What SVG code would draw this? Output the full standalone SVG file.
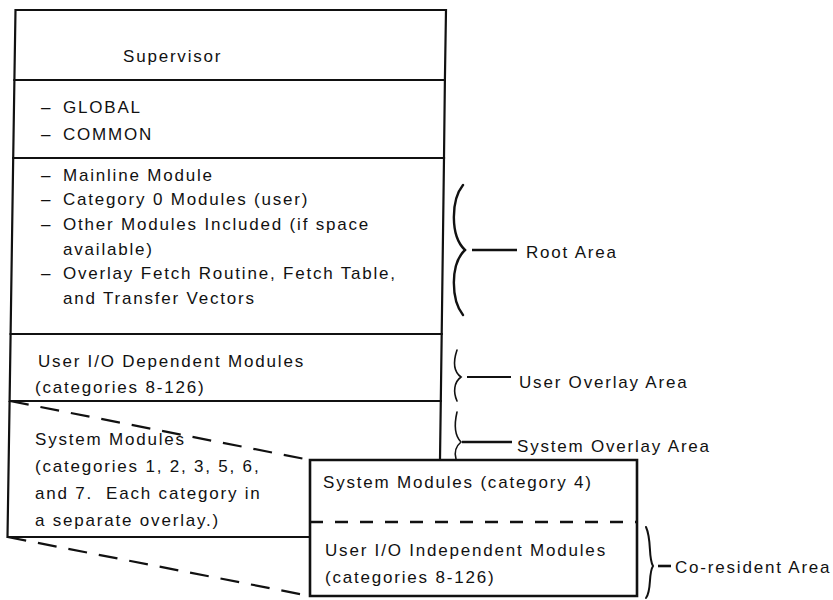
<svg xmlns="http://www.w3.org/2000/svg" width="833" height="600" viewBox="0 0 833 600">
<style>
  text { font-family: "Liberation Sans", Arial, sans-serif; font-size: 17px; letter-spacing: 1.8px; fill: #111; }
  .box { fill: none; stroke: #111; stroke-width: 2.2; stroke-linejoin: miter; }
  .dash { fill: none; stroke: #111; stroke-width: 2.2; stroke-dasharray: 19 12; }
  .hdash { fill: none; stroke: #111; stroke-width: 2.4; stroke-dasharray: 13 12; }
  .brace { fill: none; stroke: #111; stroke-width: 2.4; stroke-linecap: round; }
  .lead { stroke: #111; stroke-width: 2.6; }
</style>
<rect width="833" height="600" fill="#fff"/>

<g id="supervisor">
  <polygon class="box" points="15.5,10 446,10 444.9,80 14.4,80"/>
  <text x="123" y="62">Supervisor</text>
</g>

<g id="global-common">
  <polygon class="box" points="14.4,80 444.9,80 444,158 13.2,158"/>
  <text y="113"><tspan x="41">– </tspan><tspan x="63">GLOBAL</tspan></text>
  <text y="140"><tspan x="41">– </tspan><tspan x="63">COMMON</tspan></text>
</g>

<g id="root">
  <polygon class="box" points="13.2,158 444,158 441.7,334 10.6,334"/>
  <text y="181"><tspan x="41">– </tspan><tspan x="63">Mainline Module</tspan></text>
  <text y="205"><tspan x="41">– </tspan><tspan x="63">Category 0 Modules (user)</tspan></text>
  <text y="230"><tspan x="41">– </tspan><tspan x="63">Other Modules Included (if space</tspan></text>
  <text x="63" y="255">available)</text>
  <text y="279"><tspan x="41">– </tspan><tspan x="63">Overlay Fetch Routine, Fetch Table,</tspan></text>
  <text x="63" y="304">and Transfer Vectors</text>
</g>

<g id="user-io-dependent">
  <polygon class="box" points="10.6,334 441.7,334 440.8,401 9.6,401"/>
  <text x="38" y="367">User I/O Dependent Modules</text>
  <text x="35" y="393">(categories 8-126)</text>
</g>

<g id="system-modules">
  <polyline class="box" points="9.6,401 440.8,401 440,460"/>
  <polyline class="box" points="9.6,401 7.5,537 310,537"/>
  <text x="35" y="445">System Modules</text>
  <text x="35" y="472">(categories 1, 2, 3, 5, 6,</text>
  <text x="35" y="499" xml:space="preserve">and 7.  Each category in</text>
  <text x="35" y="526">a separate overlay.)</text>
</g>

<g id="system-modules-cat4">
  <polyline class="box" points="310,522 310,460 637,460 637,522" style="stroke-width:2.6"/>
  <line class="hdash" x1="310" y1="522" x2="637" y2="522"/>
  <text x="323" y="488">System Modules (category 4)</text>
</g>

<g id="user-io-independent">
  <polyline class="box" points="310,522 310,596 637,596 637,522" style="stroke-width:2.6"/>
  <text x="325" y="556">User I/O Independent Modules</text>
  <text x="325" y="583">(categories 8-126)</text>
</g>

<g id="root-area">
  <path class="brace" d="M463,185 C451,200 450,236 465,250 C450,264 451,300 463,315"/>
  <text x="526" y="258">Root Area</text>
</g>

<g id="user-overlay-area">
  <path class="brace" style="stroke-width:1.6" d="M457,350 C453,362 454,372 461,377 C454,382 453,392 457,401"/>
  <text x="519" y="388">User Overlay Area</text>
</g>

<g id="system-overlay-area">
  <path class="brace" style="stroke-width:1.6" d="M457,412 C454,425 455,436 461,442 C455,447 454,452 456,459"/>
  <text x="517" y="452">System Overlay Area</text>
</g>

<g id="co-resident-area">
  <path class="brace" style="stroke-width:2" d="M646,527 C652,540 648,558 653,566 C648,574 652,590 646,598"/>
  <text x="675" y="573">Co-resident Area</text>
</g>

<g id="connectors">
  <line class="dash" x1="10" y1="401" x2="310" y2="460"/>
  <line class="dash" x1="7.5" y1="537" x2="310" y2="596"/>
  <line class="lead" x1="472" y1="250" x2="517" y2="250"/>
  <line class="lead" style="stroke-width:2" x1="467" y1="377" x2="511" y2="377"/>
  <line class="lead" x1="462" y1="442" x2="512" y2="442"/>
  <line class="lead" x1="658" y1="566" x2="671" y2="566"/>
</g>
</svg>
